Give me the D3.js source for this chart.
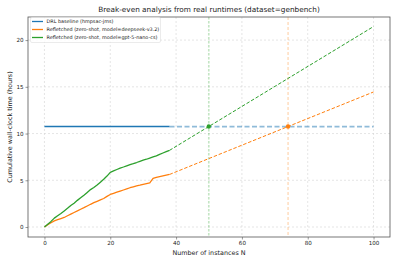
<!DOCTYPE html>
<html><head><meta charset="utf-8">
<script src="https://cdn.jsdelivr.net/npm/d3@7"></script>
<style>body{margin:0;background:#fff}svg{display:block}text{font-family:"DejaVu Sans",sans-serif;fill:#222}</style>
</head><body><svg id="c" width="397" height="264"></svg>
<script>
const title = "Break-even analysis from real runtimes (dataset=genbench)";
const xLabel = "Number of instances N";
const yLabel = "Cumulative wall-clock time (hours)";
const seriesNames = ["DRL baseline (hmpsac-jms)", "Refletched (zero-shot, model=deepseek-v3.2)", "Refletched (zero-shot, model=gpt-5-nano-cs)"];
const seriesColors = ["#1f77b4", "#ff7f0e", "#2ca02c"];
const xTicks = [0, 20, 40, 60, 80, 100];
const yTicks = [0, 5, 10, 15, 20];
const baselineHours = 10.75;
const measuredN = d3.range(0, 39);
const deepseekHours = [0,0.25,0.45,0.65,0.78,0.9,1.02,1.2,1.38,1.55,1.72,1.9,2.07,2.25,2.43,2.6,2.75,2.9,3.05,3.28,3.48,3.6,3.72,3.84,3.96,4.08,4.2,4.3,4.4,4.48,4.57,4.65,4.73,5.2,5.32,5.4,5.48,5.55,5.62];
const gptHours = [0,0.3,0.6,0.95,1.2,1.45,1.72,2.0,2.3,2.55,2.85,3.12,3.4,3.7,4.0,4.22,4.5,4.8,5.1,5.45,5.85,6.0,6.15,6.3,6.42,6.55,6.68,6.78,6.9,7.03,7.15,7.25,7.38,7.5,7.62,7.78,7.92,8.06,8.2];
const extrapEndN = 100;
const deepseekAt100 = 14.45;
const gptAt100 = 21.45;

const svg = d3.select("#c");
const L = 28, R = 390, T = 17, B = 237;
const x = d3.scaleLinear().domain([-5, 105]).range([L, R]);
const y = d3.scaleLinear().domain([-1.07, 22.47]).range([B, T]);

// grid
const g = svg.append("g");
g.selectAll(".gx").data(xTicks).enter().append("line")
  .attr("x1", d => x(d)).attr("x2", d => x(d)).attr("y1", T).attr("y2", B)
  .attr("stroke", "#d4d4d4").attr("stroke-width", 0.6).attr("stroke-dasharray", "2,2");
g.selectAll(".gy").data(yTicks).enter().append("line")
  .attr("y1", d => y(d)).attr("y2", d => y(d)).attr("x1", L).attr("x2", R)
  .attr("stroke", "#d4d4d4").attr("stroke-width", 0.6).attr("stroke-dasharray", "2,2");

const lastN = measuredN[measuredN.length - 1];
const line = d3.line().x(d => x(d[0])).y(d => y(d[1]));
function crossN(y0, y1, n0, n1) { return n0 + (baselineHours - y0) * (n1 - n0) / (y1 - y0); }
const dsLast = deepseekHours[deepseekHours.length - 1];
const gpLast = gptHours[gptHours.length - 1];
const beDs = crossN(dsLast, deepseekAt100, lastN, extrapEndN);
const beGp = crossN(gpLast, gptAt100, lastN, extrapEndN);

// vertical break-even lines
svg.append("line").attr("x1", x(beGp)).attr("x2", x(beGp)).attr("y1", T).attr("y2", B)
  .attr("stroke", seriesColors[2]).attr("stroke-opacity", 0.28).attr("stroke-width", 1.6).attr("stroke-dasharray", "2.5,1.5");
svg.append("line").attr("x1", x(beDs)).attr("x2", x(beDs)).attr("y1", T).attr("y2", B)
  .attr("stroke", seriesColors[1]).attr("stroke-opacity", 0.5).attr("stroke-width", 0.8).attr("stroke-dasharray", "3,2");

// baseline
svg.append("path").attr("d", line([[lastN, baselineHours], [extrapEndN, baselineHours]]))
  .attr("fill", "none").attr("stroke", seriesColors[0]).attr("stroke-opacity", 0.5).attr("stroke-width", 1.8).attr("stroke-dasharray", "5,2.5");
svg.append("path").attr("d", line([[0, baselineHours], [lastN, baselineHours]]))
  .attr("fill", "none").attr("stroke", seriesColors[0]).attr("stroke-width", 1.6);

// extrapolations
svg.append("path").attr("d", line([[lastN, dsLast], [extrapEndN, deepseekAt100]]))
  .attr("fill", "none").attr("stroke", seriesColors[1]).attr("stroke-width", 1).attr("stroke-dasharray", "3.5,1.8");
svg.append("path").attr("d", line([[lastN, gpLast], [extrapEndN, gptAt100]]))
  .attr("fill", "none").attr("stroke", seriesColors[2]).attr("stroke-width", 1).attr("stroke-dasharray", "3.5,1.8");

// measured
svg.append("path").attr("d", line(measuredN.map((n, i) => [n, deepseekHours[i]])))
  .attr("fill", "none").attr("stroke", seriesColors[1]).attr("stroke-width", 1.3).attr("stroke-linejoin", "round");
svg.append("path").attr("d", line(measuredN.map((n, i) => [n, gptHours[i]])))
  .attr("fill", "none").attr("stroke", seriesColors[2]).attr("stroke-width", 1.3).attr("stroke-linejoin", "round");

// markers
svg.append("circle").attr("cx", x(beGp)).attr("cy", y(baselineHours)).attr("r", 2.2).attr("fill", seriesColors[2]);
svg.append("circle").attr("cx", x(beDs)).attr("cy", y(baselineHours)).attr("r", 2.2).attr("fill", seriesColors[1]);

// frame
svg.append("rect").attr("x", L).attr("y", T).attr("width", R - L).attr("height", B - T)
  .attr("fill", "none").attr("stroke", "#555").attr("stroke-width", 0.8);

// axes
const xa = svg.append("g").attr("transform", `translate(0,${B})`)
  .call(d3.axisBottom(x).tickValues(xTicks).tickSize(2.5).tickPadding(2));
const ya = svg.append("g").attr("transform", `translate(${L},0)`)
  .call(d3.axisLeft(y).tickValues(yTicks).tickSize(2.5).tickPadding(2));
[xa, ya].forEach(a => {
  a.select(".domain").remove();
  a.selectAll("line").attr("stroke", "#555").attr("stroke-width", 0.6);
  a.selectAll("text").attr("font-size", 5.6).attr("font-family", "DejaVu Sans").attr("fill", "#222");
});

svg.append("text").attr("x", (L + R) / 2).attr("y", 12).attr("text-anchor", "middle").attr("font-size", 7.3).text(title);
svg.append("text").attr("x", (L + R) / 2).attr("y", 255).attr("text-anchor", "middle").attr("font-size", 6.4).text(xLabel);
svg.append("text").attr("transform", `translate(12,${(T + B) / 2}) rotate(-90)`).attr("text-anchor", "middle").attr("font-size", 6.4).text(yLabel);

// legend
const lg = svg.append("g");
lg.append("rect").attr("x", 30.5).attr("y", 17.5).attr("width", 130).attr("height", 25)
  .attr("fill", "#fff").attr("fill-opacity", 0.85).attr("stroke", "#ddd").attr("stroke-width", 0.6).attr("rx", 1.5);
seriesNames.forEach((name, i) => {
  const yy = 21.5 + i * 8;
  lg.append("line").attr("x1", 32).attr("x2", 43).attr("y1", yy).attr("y2", yy).attr("stroke", seriesColors[i]).attr("stroke-width", 1.3);
  lg.append("text").attr("x", 46.5).attr("y", yy + 1.8).attr("font-size", 4.9).text(name);
});
</script></body></html>
